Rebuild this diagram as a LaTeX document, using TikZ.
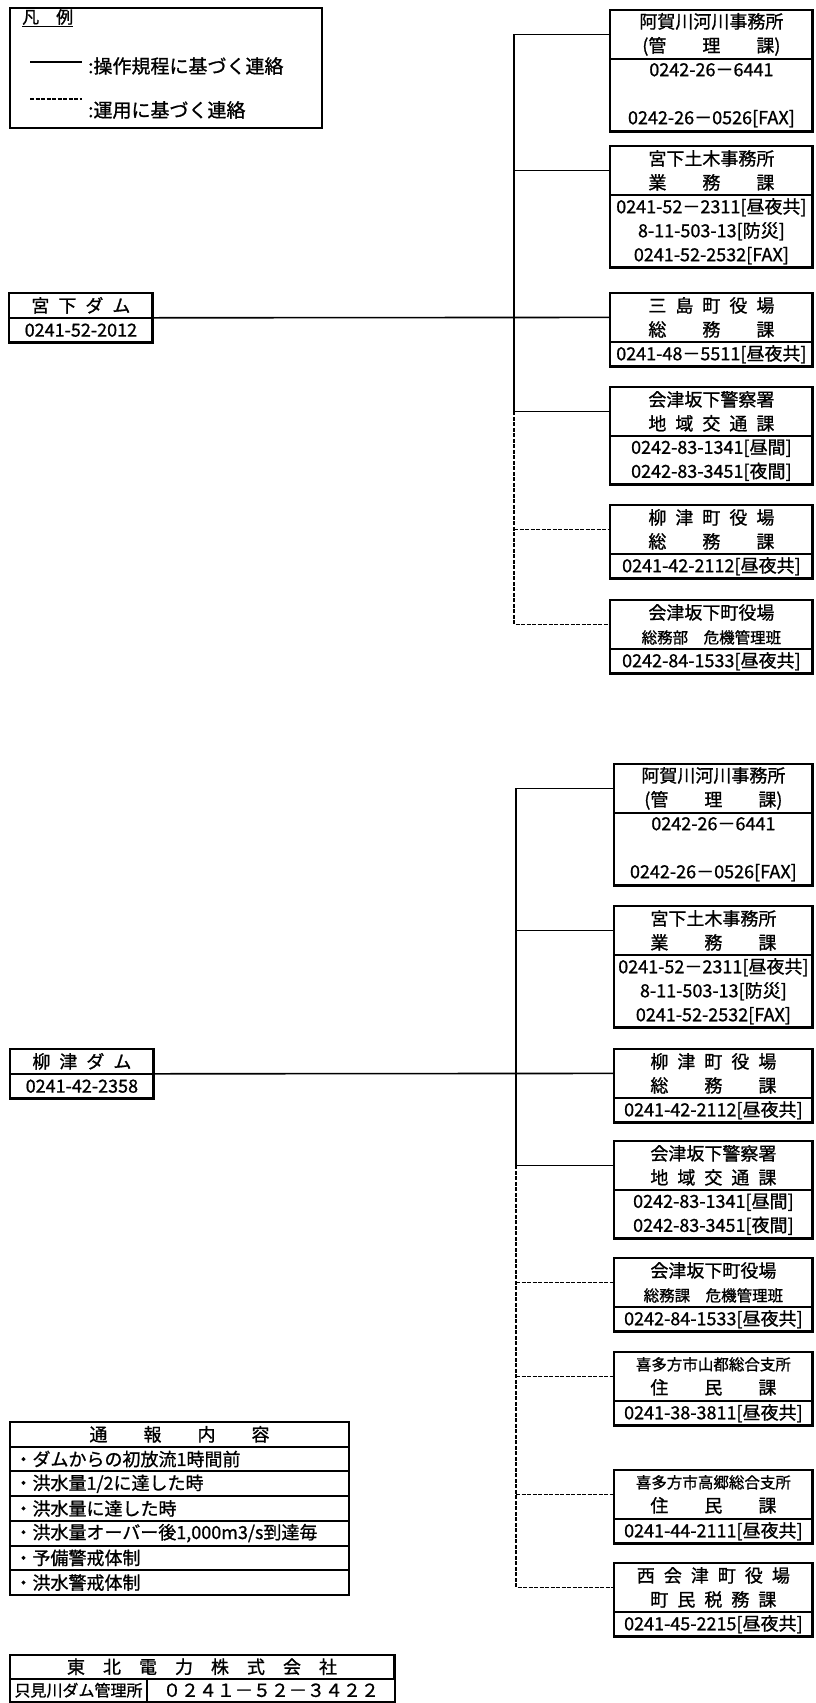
\documentclass[tikz,border=0pt]{standalone}
\usepackage{fontspec}
\setmainfont{Noto Sans CJK JP}[FakeBold=1]
\usetikzlibrary{positioning}
\newcommand{\smalljp}{\fontsize{15.5}{24}\selectfont}

\begin{document}
\begin{tikzpicture}[x=1pt,y=-1pt,
  every node/.style={font=\fontsize{18}{24}\selectfont, inner sep=0pt},
  hd/.style={anchor=north west, align=center, draw, line width=0.8pt, minimum height=48pt},
  bd/.style={align=center, draw, line width=0.8pt},
  r1/.style={minimum height=24pt},
  r2/.style={minimum height=48pt},
  r3/.style={minimum height=72pt},
  dam/.style={draw, line width=0.8pt, minimum width=143pt, minimum height=24pt},
  cell/.style={draw, line width=1pt, align=left, text width=330pt, inner xsep=4pt, minimum height=23.7pt},
  tkcell/.style={draw, line width=1pt, minimum height=22.5pt},
  frame/.style={line width=2.8pt},
  link/.style={line width=1.6pt},
  dlink/.style={line width=1.6pt, dash pattern=on 4pt off 1.5pt}]
  \useasboundingbox (0,0) rectangle (815,1703);

  % legend
  \draw[line width=1.6pt] (10,8) rectangle (322,128);
  \node[anchor=west, font=\fontsize{17}{20}\selectfont] (lgh) at (22,18) {\underline{凡　例}};
  \coordinate (lg1a) at (30,62);
  \coordinate (lg1b) at (82,62);
  \draw[link] (lg1a) -- (lg1b);
  \node[anchor=west, font=\fontsize{19}{24}\selectfont] (lg1) at (88,66) {:操作規程に基づく連絡};
  \coordinate (lg2a) at (30,99);
  \coordinate (lg2b) at (82,99);
  \draw[dlink] (lg2a) -- (lg2b);
  \node[anchor=west, font=\fontsize{19}{24}\selectfont] (lg2) at (88,110) {:運用に基づく連絡};

  % dams
  \node[dam, anchor=north west] (dam1) at (9,293) {宮\enspace 下\enspace ダ\enspace ム};
  \node[dam, below=0pt of dam1] (dam1n) {0241-52-2012};
  \draw[frame] (dam1.north west) rectangle (dam1n.south east);
  \node[dam, anchor=north west] (dam2) at (10,1049) {柳\enspace 津\enspace ダ\enspace ム};
  \node[dam, below=0pt of dam2] (dam2n) {0241-42-2358};
  \draw[frame] (dam2.north west) rectangle (dam2n.south east);

  % upper group
  \begin{scope}[nodes={text width=202pt}]
    \node[hd] (ag1) at (610,10) {阿賀川河川事務所\\(管　　理　　課)};
    \node[bd, r3, below=0pt of ag1] (ag1t) {0242-26－6441\\[24pt]0242-26－0526[FAX]};
    \draw[frame] (ag1.north west) rectangle (ag1t.south east);

    \node[hd] (mi1) at (610,146) {宮下土木事務所\\業　　務　　課};
    \node[bd, r3, below=0pt of mi1] (mi1t) {0241-52－2311[昼夜共]\\8-11-503-13[防災]\\0241-52-2532[FAX]};
    \draw[frame] (mi1.north west) rectangle (mi1t.south east);

    \node[hd] (mis) at (610,293) {三\enspace 島\enspace 町\enspace 役\enspace 場\\総　　務　　課};
    \node[bd, r1, below=0pt of mis] (mist) {0241-48－5511[昼夜共]};
    \draw[frame] (mis.north west) rectangle (mist.south east);

    \node[hd] (ke1) at (610,387) {会津坂下警察署\\地\enspace 域\enspace 交\enspace 通\enspace 課};
    \node[bd, r2, below=0pt of ke1] (ke1t) {0242-83-1341[昼間]\\0242-83-3451[夜間]};
    \draw[frame] (ke1.north west) rectangle (ke1t.south east);

    \node[hd] (ya1) at (610,505) {柳\enspace 津\enspace 町\enspace 役\enspace 場\\総　　務　　課};
    \node[bd, r1, below=0pt of ya1] (ya1t) {0241-42-2112[昼夜共]};
    \draw[frame] (ya1.north west) rectangle (ya1t.south east);

    \node[hd] (ak1) at (610,600) {会津坂下町役場\\{\smalljp 総務部　危機管理班}};
    \node[bd, r1, below=0pt of ak1] (ak1t) {0242-84-1533[昼夜共]};
    \draw[frame] (ak1.north west) rectangle (ak1t.south east);
  \end{scope}

  \coordinate (j1) at (514,317);
  \draw[link] (dam1n.north east) -- (mis.west);
  \draw[link] (ag1.west) -- (j1 |- ag1.west) -- (j1 |- ke1.west) -- (ke1.west);
  \draw[link] (j1 |- mi1.west) -- (mi1.west);
  \draw[dlink] (j1 |- ke1.west) -- (j1 |- ak1.west) -- (ak1.west);
  \draw[dlink] (j1 |- ya1.west) -- (ya1.west);

  % lower group
  \begin{scope}[nodes={text width=198pt}]
    \node[hd] (ag2) at (614,764) {阿賀川河川事務所\\(管　　理　　課)};
    \node[bd, r3, below=0pt of ag2] (ag2t) {0242-26－6441\\[24pt]0242-26－0526[FAX]};
    \draw[frame] (ag2.north west) rectangle (ag2t.south east);

    \node[hd] (mi2) at (614,906) {宮下土木事務所\\業　　務　　課};
    \node[bd, r3, below=0pt of mi2] (mi2t) {0241-52－2311[昼夜共]\\8-11-503-13[防災]\\0241-52-2532[FAX]};
    \draw[frame] (mi2.north west) rectangle (mi2t.south east);

    \node[hd] (ya2) at (614,1049) {柳\enspace 津\enspace 町\enspace 役\enspace 場\\総　　務　　課};
    \node[bd, r1, below=0pt of ya2] (ya2t) {0241-42-2112[昼夜共]};
    \draw[frame] (ya2.north west) rectangle (ya2t.south east);

    \node[hd] (ke2) at (614,1141) {会津坂下警察署\\地\enspace 域\enspace 交\enspace 通\enspace 課};
    \node[bd, r2, below=0pt of ke2] (ke2t) {0242-83-1341[昼間]\\0242-83-3451[夜間]};
    \draw[frame] (ke2.north west) rectangle (ke2t.south east);

    \node[hd] (ak2) at (614,1258) {会津坂下町役場\\{\smalljp 総務課　危機管理班}};
    \node[bd, r1, below=0pt of ak2] (ak2t) {0242-84-1533[昼夜共]};
    \draw[frame] (ak2.north west) rectangle (ak2t.south east);

    \node[hd] (ki2) at (614,1352) {{\smalljp 喜多方市山都総合支所}\\住　　民　　課};
    \node[bd, r1, below=0pt of ki2] (ki2t) {0241-38-3811[昼夜共]};
    \draw[frame] (ki2.north west) rectangle (ki2t.south east);

    \node[hd] (ta2) at (614,1470) {{\smalljp 喜多方市高郷総合支所}\\住　　民　　課};
    \node[bd, r1, below=0pt of ta2] (ta2t) {0241-44-2111[昼夜共]};
    \draw[frame] (ta2.north west) rectangle (ta2t.south east);

    \node[hd] (ni2) at (614,1563) {西\enspace 会\enspace 津\enspace 町\enspace 役\enspace 場\\町\enspace 民\enspace 税\enspace 務\enspace 課};
    \node[bd, r1, below=0pt of ni2] (ni2t) {0241-45-2215[昼夜共]};
    \draw[frame] (ni2.north west) rectangle (ni2t.south east);
  \end{scope}

  \coordinate (j2) at (516,1073);
  \draw[link] (dam2n.north east) -- (ya2.west);
  \draw[link] (ag2.west) -- (j2 |- ag2.west) -- (j2 |- ke2.west) -- (ke2.west);
  \draw[link] (j2 |- mi2.west) -- (mi2.west);
  \draw[dlink] (j2 |- ke2.west) -- (j2 |- ni2.west) -- (ni2.west);
  \draw[dlink] (j2 |- ak2.west) -- (ak2.west);
  \draw[dlink] (j2 |- ki2.west) -- (ki2.west);
  \draw[dlink] (j2 |- ta2.west) -- (ta2.west);

  % notice table
  \node[cell, align=center, anchor=north west] (tb0) at (10,1422) {通　　報　　内　　容};
  \node[cell, below=0pt of tb0] (tb1) {・ダムからの初放流1時間前};
  \node[cell, below=0pt of tb1] (tb2) {・洪水量1/2に達した時};
  \node[cell, below=0pt of tb2] (tb3) {・洪水量に達した時};
  \node[cell, below=0pt of tb3] (tb4) {・洪水量オーバー後1,000m3/s到達毎};
  \node[cell, below=0pt of tb4] (tb5) {・予備警戒体制};
  \node[cell, below=0pt of tb5] (tb6) {・洪水警戒体制};
  \draw[frame] (tb0.north west) rectangle (tb6.south east);

  % Tohoku box
  \node[tkcell, anchor=north west, minimum width=383pt] (tk0) at (10,1655) {東　北　電　力　株　式　会　社};
  \node[tkcell, anchor=north west, minimum width=136pt, font=\fontsize{16}{20}\selectfont] (tk1) at (tk0.south west) {只見川ダム管理所};
  \node[tkcell, right=0pt of tk1, minimum width=247pt] (tk2) {０２４１－５２－３４２２};
  \draw[frame] (tk0.north west) rectangle (tk2.south east);
\end{tikzpicture}
\end{document}
